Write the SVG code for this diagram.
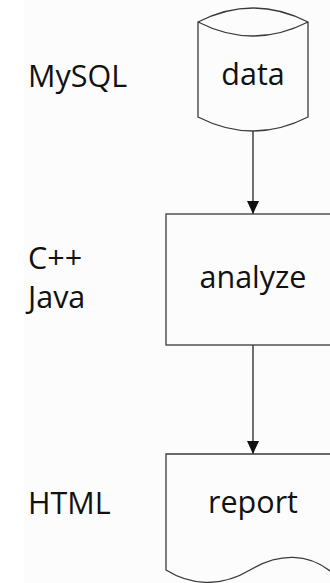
<svg xmlns="http://www.w3.org/2000/svg" width="330" height="583" viewBox="0 0 330 583">
<style>
.shape{fill:none;stroke:#3a3a3a;stroke-width:1.3}
.lbl{font-family:"Open Sans","Noto Sans",sans-serif;font-size:30.5px;fill:#111}
.c{text-anchor:middle}
.edge{stroke:#111;stroke-width:1.2;fill:none}
</style>
<defs>
<marker id="arr" viewBox="0 0 13 12" refX="13" refY="6" markerWidth="13" markerHeight="12" markerUnits="userSpaceOnUse" orient="auto">
<path d="M0,0 L13,6 L0,12 Z" fill="#111"/>
</marker>
</defs>
<rect x="0" y="0" width="330" height="583" fill="#ffffff"/>
<rect x="24" y="0" width="306" height="583" fill="#fcfcfc"/>
<g id="labels">
<text class="lbl" x="28" y="87">MySQL</text>
<text class="lbl" x="28" y="269">C++</text>
<text class="lbl" x="28" y="308">Java</text>
<text class="lbl" x="28" y="514">HTML</text>
</g>
<g id="connectors">
<line class="edge" x1="253" y1="131" x2="253" y2="214" marker-end="url(#arr)"/>
<line class="edge" x1="253" y1="345" x2="253" y2="454" marker-end="url(#arr)"/>
</g>
<g id="data">
<path class="shape" d="M198,22 Q253,-6 308,22 L308,117 Q253,145 198,117 Z" fill="#fdfdfd"/>
<path class="shape" d="M198,22 Q253,50 308,22"/>
<text class="lbl c" x="253" y="85">data</text>
</g>
<g id="analyze">
<rect class="shape" x="166" y="214" width="174" height="131"/>
<text class="lbl c" x="253" y="288">analyze</text>
</g>
<g id="report">
<path class="shape" d="M340,454 L166,454 L166,570 C190,585 220,588 250,570 C275,555 310,548 340,580"/>
<text class="lbl c" x="253" y="513">report</text>
</g>
</svg>
